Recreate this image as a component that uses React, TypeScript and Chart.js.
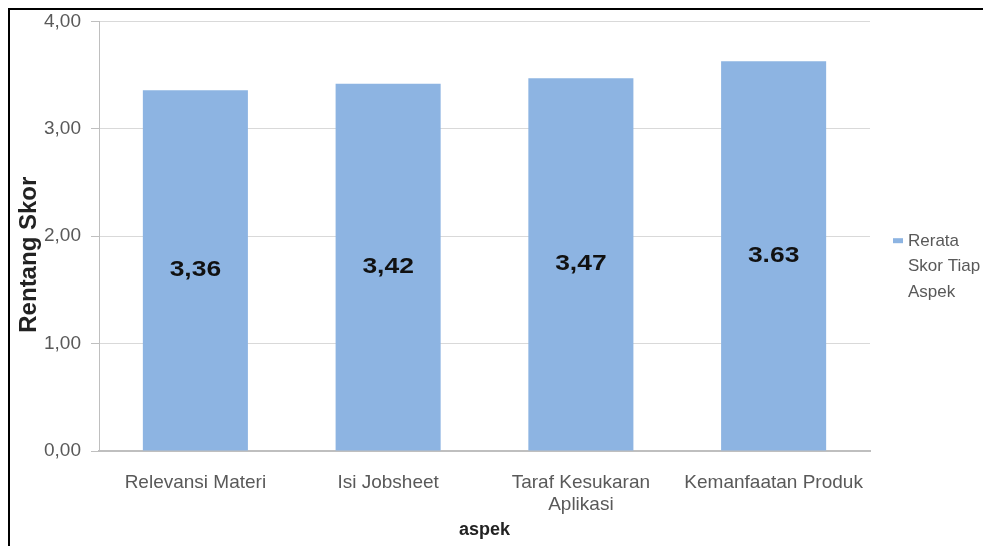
import React, { useEffect, useRef } from "react";
import { Chart, registerables } from "chart.js";

Chart.register(...registerables);

const categories: string[][] = [
  ["Relevansi Materi"],
  ["Isi Jobsheet"],
  ["Taraf Kesukaran", "Aplikasi"],
  ["Kemanfaatan Produk"],
];
const values: number[] = [3.36, 3.42, 3.47, 3.63];
const valueLabels: string[] = ["3,36", "3,42", "3,47", "3.63"];
const yTickLabels: string[] = ["0,00", "1,00", "2,00", "3,00", "4,00"];
const seriesName = "Rerata Skor Tiap Aspek";
const legendLines: string[] = ["Rerata", "Skor Tiap", "Aspek"];
const yTitle = "Rentang Skor";
const xTitle = "aspek";

const FONT = "'Liberation Sans', Arial, sans-serif";
const BAR = "#8DB4E2";
const TEXT = "#595959";

export default function App() {
  const ref = useRef<HTMLCanvasElement | null>(null);

  useEffect(() => {
    if (!ref.current) return;

    const valueLabelPlugin = {
      id: "valueLabels",
      afterDatasetsDraw(chart: any) {
        const ctx = chart.ctx;
        const meta = chart.getDatasetMeta(0);
        meta.data.forEach((bar: any, i: number) => {
          const y = (bar.y + bar.base) / 2;
          ctx.save();
          ctx.translate(bar.x, y);
          ctx.scale(1.2, 1);
          ctx.font = `bold 22px ${FONT}`;
          ctx.fillStyle = "#111111";
          ctx.textAlign = "center";
          ctx.textBaseline = "middle";
          ctx.fillText(valueLabels[i], 0, 0);
          ctx.restore();
        });
      },
    };

    const yTitlePlugin = {
      id: "yTitle",
      afterDraw(chart: any) {
        const ctx = chart.ctx;
        const area = chart.chartArea;
        ctx.save();
        ctx.translate(19, (area.top + area.bottom) / 2 + 18.5);
        ctx.rotate(-Math.PI / 2);
        ctx.font = `bold 24px ${FONT}`;
        ctx.fillStyle = "#222222";
        ctx.textAlign = "center";
        ctx.textBaseline = "middle";
        ctx.fillText(yTitle, 0, 0);
        ctx.restore();
      },
    };

    const legendPlugin = {
      id: "customLegend",
      afterDraw(chart: any) {
        const ctx = chart.ctx;
        const area = chart.chartArea;
        const x0 = area.right + 23;
        const yMid = (area.top + area.bottom) / 2;
        ctx.save();
        ctx.fillStyle = BAR;
        ctx.fillRect(x0, yMid + 2, 10, 5);
        ctx.font = `17px ${FONT}`;
        ctx.fillStyle = TEXT;
        ctx.textAlign = "left";
        ctx.textBaseline = "middle";
        legendLines.forEach((line, i) => {
          ctx.fillText(line, x0 + 15, yMid + 5 + i * 25.5);
        });
        ctx.restore();
      },
    };

    const chart = new Chart(ref.current, {
      type: "bar",
      data: {
        labels: categories,
        datasets: [
          {
            label: seriesName,
            data: values,
            backgroundColor: BAR,
            borderWidth: 0,
            barPercentage: 0.545,
            categoryPercentage: 1,
          },
        ],
      },
      options: {
        responsive: false,
        animation: false,
        layout: { padding: { top: 0, right: 119, left: 0, bottom: 0 } },
        plugins: {
          legend: { display: false },
          tooltip: { enabled: false },
        },
        scales: {
          x: {
            grid: { display: false, drawTicks: false },
            border: { display: true, color: "#BFBFBF", width: 2 },
            ticks: {
              color: TEXT,
              font: { family: FONT, size: 19, lineHeight: 1.2 },
              padding: 20,
              maxRotation: 0,
              autoSkip: false,
            },
            title: {
              display: true,
              text: xTitle,
              color: "#222222",
              font: { family: FONT, size: 18, weight: "bold" },
              padding: { top: 0, bottom: 3 },
            },
            afterFit(scale: any) {
              scale.height = 93;
            },
          },
          y: {
            min: 0,
            max: 4,
            grid: {
              color: "#D9D9D9",
              lineWidth: 1,
              tickLength: 8,
              tickColor: "#BFBFBF",
            },
            border: { display: true, color: "#BFBFBF", width: 1 },
            ticks: {
              stepSize: 1,
              color: TEXT,
              padding: 10,
              font: { family: FONT, size: 19 },
              callback: (v: any) => yTickLabels[Math.round(Number(v))] ?? "",
            },
            title: { display: false },
            afterFit(scale: any) {
              scale.width = 89;
            },
          },
        },
      },
      plugins: [valueLabelPlugin, yTitlePlugin, legendPlugin],
    });

    return () => chart.destroy();
  }, []);

  return (
    <div
      style={{
        width: 979,
        height: 536,
        borderTop: "2px solid #000",
        borderLeft: "2px solid #000",
        borderRight: "2px solid #000",
        background: "#fff",
        overflow: "hidden",
      }}
    >
      <canvas
        ref={ref}
        width={979}
        height={544}
        style={{ display: "block", marginTop: -10 }}
      />
    </div>
  );
}
